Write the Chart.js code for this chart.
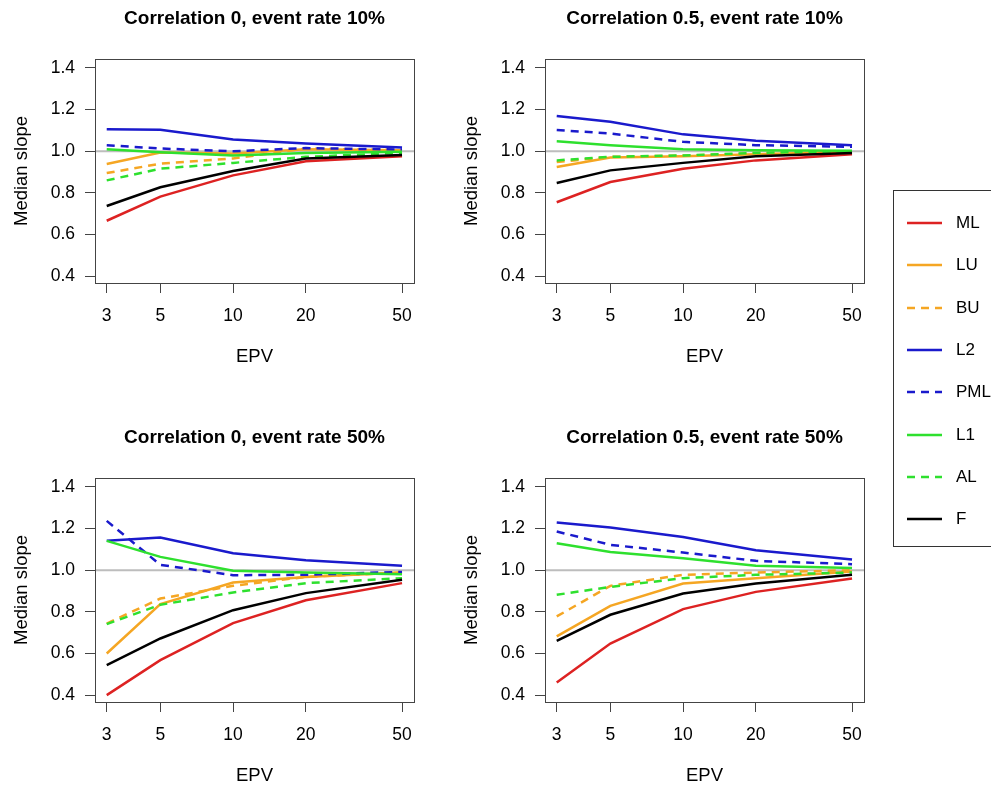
<!DOCTYPE html>
<html>
<head>
<meta charset="utf-8">
<script src="https://cdn.jsdelivr.net/npm/chart.js@4.4.1/dist/chart.umd.min.js"></script>
<style>
  html, body { margin: 0; padding: 0; background: #fff; }
  body { width: 991px; height: 787px; overflow: hidden; position: relative; font-family: 'Liberation Sans', Arial, sans-serif; }
  canvas { position: absolute; }
  #legend { position: absolute; left: 893px; top: 190px; width: 120px; height: 357px; border: 1px solid #333; box-sizing: border-box; }
  .item { position: absolute; left: 0; height: 20px; display: flex; align-items: center; font-size: 17px; color: #000; }
  .item svg { margin-left: 13px; margin-right: 14px; }
</style>
</head>
<body>
<canvas id="p1" width="450" height="368" style="left:0;top:0;width:450px;height:368px"></canvas>
<canvas id="p2" width="450" height="368" style="left:450px;top:0;width:450px;height:368px"></canvas>
<canvas id="p3" width="450" height="368" style="left:0;top:419px;width:450px;height:368px"></canvas>
<canvas id="p4" width="450" height="368" style="left:450px;top:419px;width:450px;height:368px"></canvas>
<div id="legend"></div>
<script>
const epv = [3, 5, 10, 20, 50];
const yTicks = [0.4, 0.6, 0.8, 1.0, 1.2, 1.4];
const methods = ['ML', 'LU', 'BU', 'L2', 'PML', 'L1', 'AL', 'F'];
const colors = ['#dd2222', '#f5a623', '#f5a623', '#1a1acc', '#1a1acc', '#2ee02e', '#2ee02e', '#000000'];
const dashed = [false, false, true, false, true, false, true, false];

// median slope per method, one object per panel (values at EPV 3, 5, 10, 20, 50)
const corr0_rate10 = {
  ML:  [0.666, 0.782, 0.884, 0.952, 0.976],
  LU:  [0.939, 0.994, 0.989, 1.010, 1.005],
  BU:  [0.895, 0.940, 0.965, 1.013, 1.005],
  L2:  [1.106, 1.103, 1.056, 1.037, 1.018],
  PML: [1.029, 1.013, 1.000, 1.015, 1.008],
  L1:  [1.010, 0.995, 0.980, 0.992, 0.997],
  AL:  [0.860, 0.916, 0.944, 0.973, 0.992],
  F:   [0.737, 0.827, 0.905, 0.965, 0.982]
};
const corr05_rate10 = {
  ML:  [0.755, 0.852, 0.916, 0.956, 0.985],
  LU:  [0.924, 0.970, 0.976, 0.985, 0.997],
  BU:  [0.948, 0.973, 0.979, 0.989, 1.000],
  L2:  [1.169, 1.142, 1.081, 1.050, 1.029],
  PML: [1.102, 1.085, 1.045, 1.029, 1.021],
  L1:  [1.048, 1.029, 1.010, 1.005, 1.002],
  AL:  [0.956, 0.973, 0.980, 0.992, 1.000],
  F:   [0.847, 0.908, 0.944, 0.976, 0.992]
};
const corr0_rate50 = {
  ML:  [0.400, 0.568, 0.746, 0.856, 0.938],
  LU:  [0.600, 0.837, 0.941, 0.968, 0.989],
  BU:  [0.744, 0.864, 0.925, 0.968, 0.989],
  L2:  [1.141, 1.157, 1.082, 1.048, 1.021],
  PML: [1.237, 1.026, 0.976, 0.978, 0.992],
  L1:  [1.141, 1.064, 0.997, 0.989, 0.981],
  AL:  [0.741, 0.834, 0.893, 0.938, 0.962],
  F:   [0.544, 0.672, 0.808, 0.890, 0.954]
};
const corr05_rate50 = {
  ML:  [0.461, 0.648, 0.813, 0.896, 0.960],
  LU:  [0.682, 0.829, 0.936, 0.962, 0.994],
  BU:  [0.778, 0.925, 0.978, 0.989, 1.000],
  L2:  [1.229, 1.205, 1.160, 1.096, 1.051],
  PML: [1.186, 1.122, 1.085, 1.045, 1.029],
  L1:  [1.130, 1.088, 1.058, 1.021, 1.011],
  AL:  [0.882, 0.920, 0.962, 0.978, 0.989],
  F:   [0.661, 0.786, 0.888, 0.936, 0.978]
};

const FONT = "'Liberation Sans', Arial, sans-serif";

// grey reference line at 1 and the box round the plot area
const boxPlugin = {
  id: 'box',
  beforeDatasetsDraw(chart) {
    const { ctx, chartArea: a, scales: { y } } = chart;
    const py = y.getPixelForValue(1);
    ctx.save();
    ctx.strokeStyle = '#bdbdbd';
    ctx.lineWidth = 2;
    ctx.beginPath();
    ctx.moveTo(a.left, py);
    ctx.lineTo(a.right, py);
    ctx.stroke();
    ctx.restore();
  },
  afterDatasetsDraw(chart) {
    const { ctx, chartArea: a } = chart;
    ctx.save();
    ctx.strokeStyle = '#444';
    ctx.lineWidth = 1;
    ctx.strokeRect(Math.round(a.left) + 0.5, Math.round(a.top) + 0.5, Math.round(a.right - a.left), Math.round(a.bottom - a.top));
    ctx.restore();
  }
};

function makePanel(id, title, values) {
  new Chart(document.getElementById(id), {
    type: 'line',
    data: {
      datasets: methods.map((m, i) => ({
        label: m,
        data: epv.map((x, j) => ({ x, y: values[m][j] })),
        borderColor: colors[i],
        borderDash: dashed[i] ? [8, 6] : [],
        borderWidth: 2.5,
        pointRadius: 0,
        tension: 0,
        fill: false,
        order: methods.length - i
      }))
    },
    options: {
      responsive: false,
      animation: false,
      devicePixelRatio: 1,
      layout: { padding: { top: 0, right: 36, bottom: 0, left: 0 } },
      plugins: {
        legend: { display: false },
        tooltip: { enabled: false },
        title: {
          display: true,
          text: title,
          fullSize: false,
          color: '#000',
          font: { family: FONT, size: 19, weight: 'bold', lineHeight: 1.2 },
          padding: { top: 7, bottom: 29.2 }
        }
      },
      scales: {
        x: {
          type: 'logarithmic',
          min: 2.683,
          max: 56.04,
          afterBuildTicks: s => { s.ticks = epv.map(v => ({ value: v })); },
          afterFit: s => { s.height = 85; },
          ticks: {
            callback: v => String(v),
            color: '#000',
            font: { family: FONT, size: 17.5 },
            padding: 13,
            autoSkip: false,
            maxRotation: 0
          },
          grid: { drawOnChartArea: false, drawTicks: true, tickLength: 10, color: '#444', lineWidth: 1 },
          border: { display: false },
          title: { display: true, text: 'EPV', color: '#000', font: { family: FONT, size: 18.5, lineHeight: 1.2 }, padding: { top: 0, bottom: 0 } }
        },
        y: {
          type: 'linear',
          min: 0.367,
          max: 1.443,
          afterBuildTicks: s => { s.ticks = yTicks.map(v => ({ value: v })); },
          afterFit: s => { s.width = 95; },
          ticks: {
            callback: v => v.toFixed(1),
            color: '#000',
            font: { family: FONT, size: 17.5 },
            padding: 10
          },
          grid: { drawOnChartArea: false, drawTicks: true, tickLength: 10, color: '#444', lineWidth: 1 },
          border: { display: false },
          title: { display: true, text: 'Median slope', color: '#000', font: { family: FONT, size: 18.5, lineHeight: 1.2 }, padding: { top: 11, bottom: 0 } }
        }
      }
    },
    plugins: [boxPlugin]
  });
}

makePanel('p1', 'Correlation 0, event rate 10%', corr0_rate10);
makePanel('p2', 'Correlation 0.5, event rate 10%', corr05_rate10);
makePanel('p3', 'Correlation 0, event rate 50%', corr0_rate50);
makePanel('p4', 'Correlation 0.5, event rate 50%', corr05_rate50);

// legend
const legend = document.getElementById('legend');
methods.forEach((m, i) => {
  const row = document.createElement('div');
  row.className = 'item';
  row.style.top = (22 + i * 42.3) + 'px';
  const dash = dashed[i] ? ' stroke-dasharray="8 6"' : '';
  row.innerHTML = '<svg width="35" height="4"><line x1="0" y1="2" x2="35" y2="2" stroke="' + colors[i] + '" stroke-width="2.5"' + dash + '/></svg><span>' + m + '</span>';
  legend.appendChild(row);
});
</script>
</body>
</html>
